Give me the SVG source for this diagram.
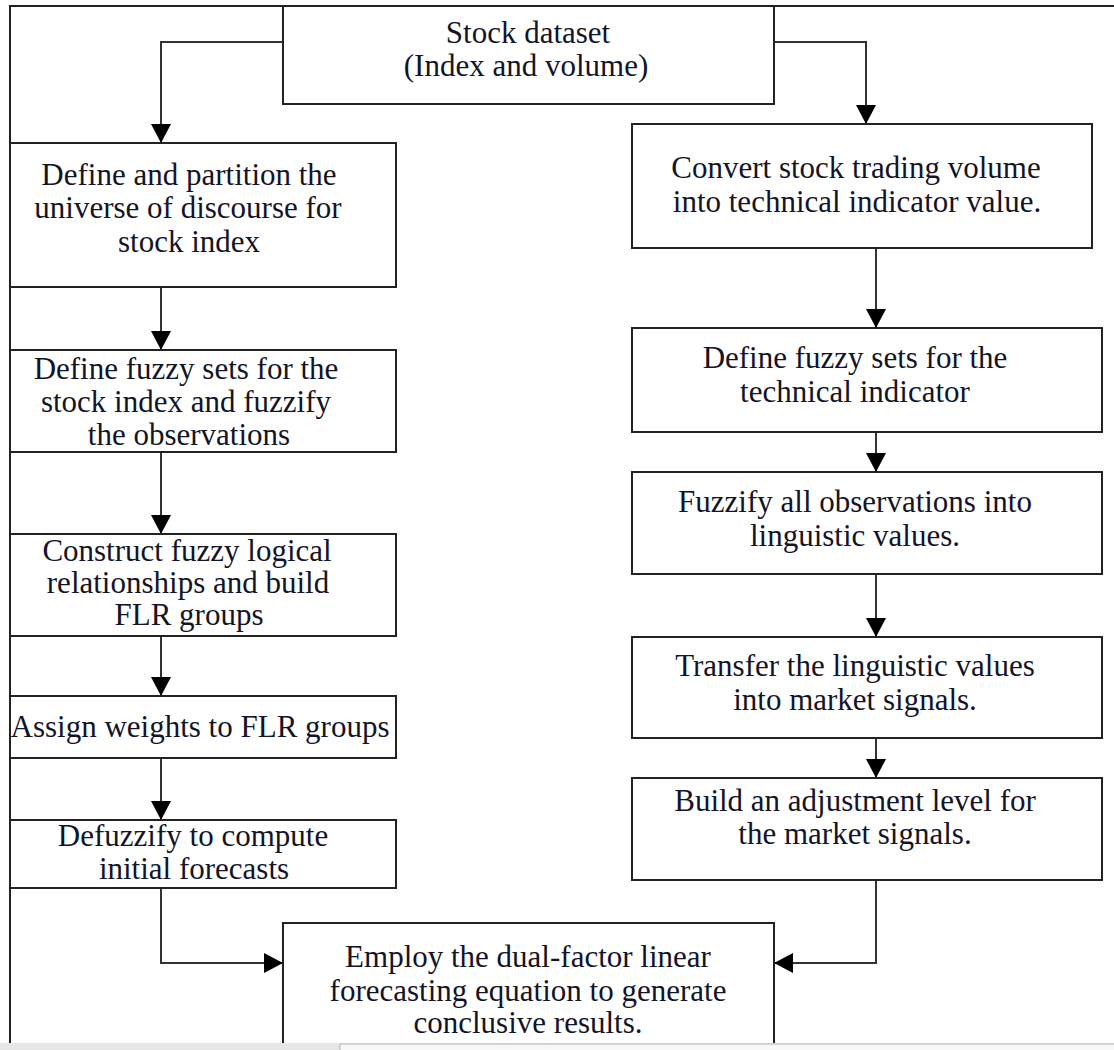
<svg xmlns="http://www.w3.org/2000/svg" width="1114" height="1050" viewBox="0 0 1114 1050">
<defs>
<style>
.box{fill:#fff;stroke:#222;stroke-width:2}
.frame{fill:none;stroke:#222;stroke-width:2}
.conn{fill:none;stroke:#333;stroke-width:2}
text{font-family:"Liberation Serif","Times New Roman",serif;font-size:31px;fill:#141428;text-anchor:middle}
</style>
<marker id="arr" viewBox="0 0 19 20" refX="19" refY="10" markerWidth="19" markerHeight="20" markerUnits="userSpaceOnUse" orient="auto">
<path d="M0,0 L19,10 L0,20 z" fill="#000"/>
</marker>
</defs>
<rect x="0" y="0" width="1114" height="1050" fill="#fff"/>
<g id="frame">
<path class="frame" d="M10,1043 V6 H1114"/>
</g>
<g id="connectors">
<path class="conn" d="M283,42 H161 V143" marker-end="url(#arr)"/>
<path class="conn" d="M774,42 H866 V124" marker-end="url(#arr)"/>
<path class="conn" d="M161,287 V350" marker-end="url(#arr)"/>
<path class="conn" d="M161,452 V534" marker-end="url(#arr)"/>
<path class="conn" d="M161,636 V696" marker-end="url(#arr)"/>
<path class="conn" d="M161,758 V820" marker-end="url(#arr)"/>
<path class="conn" d="M161,888 V963 H283" marker-end="url(#arr)"/>
<path class="conn" d="M876,248 V328" marker-end="url(#arr)"/>
<path class="conn" d="M876,432 V472" marker-end="url(#arr)"/>
<path class="conn" d="M876,574 V637" marker-end="url(#arr)"/>
<path class="conn" d="M876,738 V778" marker-end="url(#arr)"/>
<path class="conn" d="M876,880 V963 H774" marker-end="url(#arr)"/>
</g>
<g id="stock">
<rect class="box" x="283" y="6" width="491" height="98"/>
<text x="528" y="43">Stock dataset</text>
<text x="526" y="76">(Index and volume)</text>
</g>
<g id="l1">
<rect class="box" x="10" y="143" width="386" height="144"/>
<text x="189" y="185">Define and partition the</text>
<text x="188" y="218">universe of discourse for</text>
<text x="189" y="252">stock index</text>
</g>
<g id="l2">
<rect class="box" x="10" y="350" width="386" height="102"/>
<text x="186" y="379">Define fuzzy sets for the</text>
<text x="186" y="412">stock index and fuzzify</text>
<text x="189" y="445">the observations</text>
</g>
<g id="l3">
<rect class="box" x="10" y="534" width="386" height="102"/>
<text x="187" y="561">Construct fuzzy logical</text>
<text x="188" y="593">relationships and build</text>
<text x="189" y="625">FLR groups</text>
</g>
<g id="l4">
<rect class="box" x="10" y="696" width="386" height="62"/>
<text x="200" y="737">Assign weights to FLR groups</text>
</g>
<g id="l5">
<rect class="box" x="10" y="820" width="386" height="68"/>
<text x="193" y="846">Defuzzify to compute</text>
<text x="194" y="879">initial forecasts</text>
</g>
<g id="r1">
<rect class="box" x="632" y="124" width="460" height="124"/>
<text x="856" y="178">Convert stock trading volume</text>
<text x="857" y="212">into technical indicator value.</text>
</g>
<g id="r2">
<rect class="box" x="632" y="328" width="470" height="104"/>
<text x="855" y="368">Define fuzzy sets for the</text>
<text x="855" y="402">technical indicator</text>
</g>
<g id="r3">
<rect class="box" x="632" y="472" width="470" height="102"/>
<text x="855" y="512">Fuzzify all observations into</text>
<text x="855" y="546">linguistic values.</text>
</g>
<g id="r4">
<rect class="box" x="632" y="637" width="470" height="101"/>
<text x="855" y="676">Transfer the linguistic values</text>
<text x="855" y="710">into market signals.</text>
</g>
<g id="r5">
<rect class="box" x="632" y="778" width="470" height="102"/>
<text x="855" y="811">Build an adjustment level for</text>
<text x="855" y="844">the market signals.</text>
</g>
<g id="final">
<rect class="box" x="283" y="923" width="491" height="140"/>
<text x="528" y="967">Employ the dual-factor linear</text>
<text x="528" y="1001">forecasting equation to generate</text>
<text x="528" y="1033">conclusive results.</text>
</g>
<g id="statusbar">
<rect x="0" y="1043" width="1114" height="7" fill="#e6e6e6"/>
<rect x="340" y="1044" width="775" height="8" fill="#f8f8f8" stroke="#b5b5b5" stroke-width="1"/>
</g>
</svg>
